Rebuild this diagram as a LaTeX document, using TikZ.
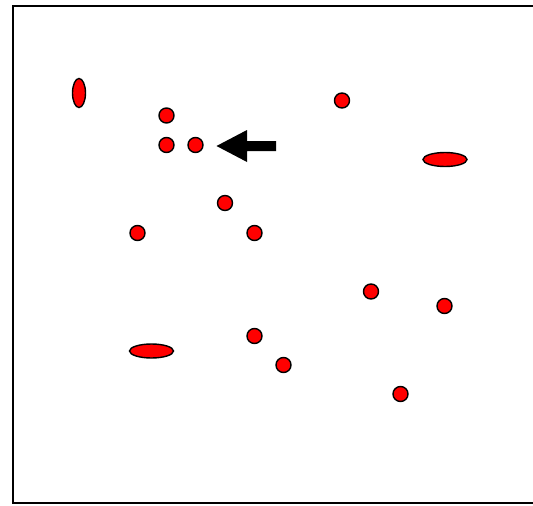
\documentclass[tikz,border=0pt]{standalone}
\usetikzlibrary{shapes.geometric}
\begin{document}
\begin{tikzpicture}[x=1pt,y=-1pt,
  dot/.style={circle,draw=black,fill=red,line width=1.4pt,minimum size=15pt,inner sep=0pt},
  vell/.style={ellipse,draw=black,fill=red,line width=1.4pt,minimum width=13pt,minimum height=29pt,inner sep=0pt},
  hell/.style={ellipse,draw=black,fill=red,line width=1.4pt,minimum width=44pt,minimum height=14pt,inner sep=0pt}]
\useasboundingbox (0,0) rectangle (533,506);
\draw[line width=2pt] (533,6) -- (13,6) -- (13,503) -- (533,503);
\node[vell] (e1) at (79,93) {};
\node[hell] (e2) at (445,159.5) {};
\node[hell] (e3) at (151.5,351) {};
\node[dot] (d1) at (166.5,115.5) {};
\node[dot] (d2) at (166.5,145) {};
\node[dot] (d3) at (195.5,145) {};
\node[dot] (d4) at (342,100.5) {};
\node[dot] (d5) at (225,203) {};
\node[dot] (d6) at (137.5,233) {};
\node[dot] (d7) at (254.5,233) {};
\node[dot] (d8) at (371,291.5) {};
\node[dot] (d9) at (444.5,306) {};
\node[dot] (d10) at (254.5,336) {};
\node[dot] (d11) at (283.5,365) {};
\node[dot] (d12) at (400.5,394) {};
\coordinate (tip) at (216.5,146);
\fill[black] (tip) -- (247,130) -- (247,141) -- (276,141) -- (276,151) -- (247,151) -- (247,162) -- cycle;
\end{tikzpicture}
\end{document}
